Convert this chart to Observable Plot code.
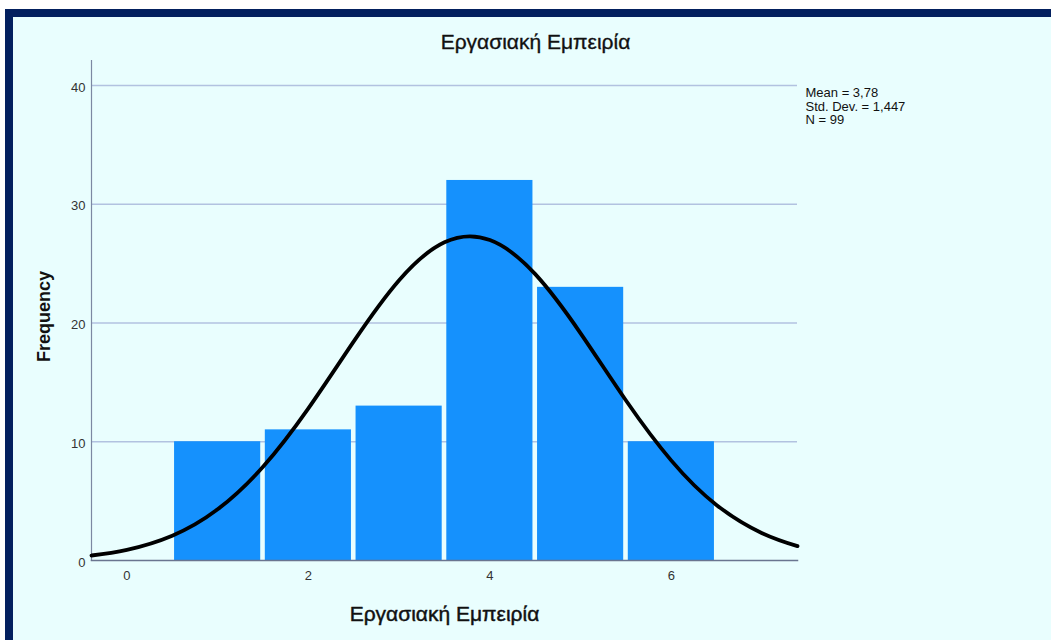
<!DOCTYPE html>
<html><head><meta charset="utf-8">
<script src="https://cdn.jsdelivr.net/npm/d3@7"></script>
<script src="https://cdn.jsdelivr.net/npm/@observablehq/plot@0.6"></script>
<style>
html,body{margin:0;padding:0;background:#fff;}
#frame{position:absolute;left:5px;top:9px;width:1038px;height:623px;border-top:8px solid #03205f;border-left:8px solid #03205f;background:#e9fefe;overflow:hidden;}
</style></head><body><div id="frame"></div>
<script>
const bins = [1, 2, 3, 4, 5, 6];
const counts = [10, 11, 13, 32, 23, 10];
const curveX = [-0.39, 0, 0.5, 1, 1.5, 2, 2.5, 3, 3.5, 4, 4.5, 5, 5.5, 6, 6.5, 7, 7.39];
const curveY = [0.42, 0.90, 2.09, 4.31, 7.89, 12.81, 18.45, 23.60, 26.79, 26.98, 24.11, 19.13, 13.47, 8.41, 4.66, 2.30, 1.21];
const xTicks = [0, 2, 4, 6];
const yTicks = [0, 10, 20, 30, 40];
const gridTicks = [10, 20, 30, 40];
const stats = ["Mean = 3,78", "Std. Dev. = 1,447", "N = 99"];
const title = "Εργασιακή Εμπειρία";
const xLabel = "Εργασιακή Εμπειρία";
const yLabel = "Frequency";

const bars = bins.map((b, i) => ({bin: b, count: counts[i]}));
const curve = curveX.map((x, i) => ({x, y: curveY[i]}));
const font = "'Liberation Sans', Arial, sans-serif";

const chart = Plot.plot({
  width: 1038,
  height: 623,
  marginLeft: 78,
  marginRight: 254,
  marginTop: 43,
  marginBottom: 80,
  style: {background: "transparent", fontFamily: font, color: "#222"},
  x: {domain: [-0.39, 7.39], axis: null},
  y: {domain: [0, 42.1], axis: null},
  marks: [
    Plot.gridY(gridTicks, {stroke: "#b2c2e0", strokeOpacity: 1, strokeWidth: 1.5}),
    Plot.rectY(bars, {x1: d => d.bin - 0.5, x2: d => d.bin + 0.5, y: "count", fill: "#1591fd", insetLeft: 2.3, insetRight: 2.3}),
    Plot.frame({anchor: "left", stroke: "#7c88a2", strokeWidth: 1.2}),
    Plot.frame({anchor: "bottom", stroke: "#6a7590", strokeWidth: 1.5}),
    Plot.line(curve, {x: "x", y: "y", curve: "natural", stroke: "#000", strokeWidth: 3.8}),
    Plot.axisY(yTicks, {tickSize: 0, tickPadding: 6, fontSize: 13, fill: "#333", label: null, dy: 2}),
    Plot.axisX(xTicks, {tickSize: 0, tickPadding: 10, fontSize: 13, fill: "#333", label: null}),
    Plot.text([title], {frameAnchor: "top", dx: 91, dy: -12, lineAnchor: "bottom", fontSize: 21, fill: "#111", stroke: "#111", strokeWidth: 0.35, text: d => d}),
    Plot.text([xLabel], {frameAnchor: "bottom", dy: 60, lineAnchor: "bottom", fontSize: 21, fill: "#111", stroke: "#111", strokeWidth: 0.45, text: d => d}),
    Plot.text([yLabel], {frameAnchor: "left", dx: -47, dy: 6, rotate: -90, textAnchor: "middle", fontSize: 18, fontWeight: "bold", fill: "#111", text: d => d}),
    Plot.text([stats.join("\n")], {frameAnchor: "top-right", dx: 8, dy: 27, textAnchor: "start", lineAnchor: "top", lineHeight: 1.05, fontSize: 13, fill: "#111", text: d => d})
  ]
});
document.getElementById("frame").appendChild(chart);
</script>
</body></html>
